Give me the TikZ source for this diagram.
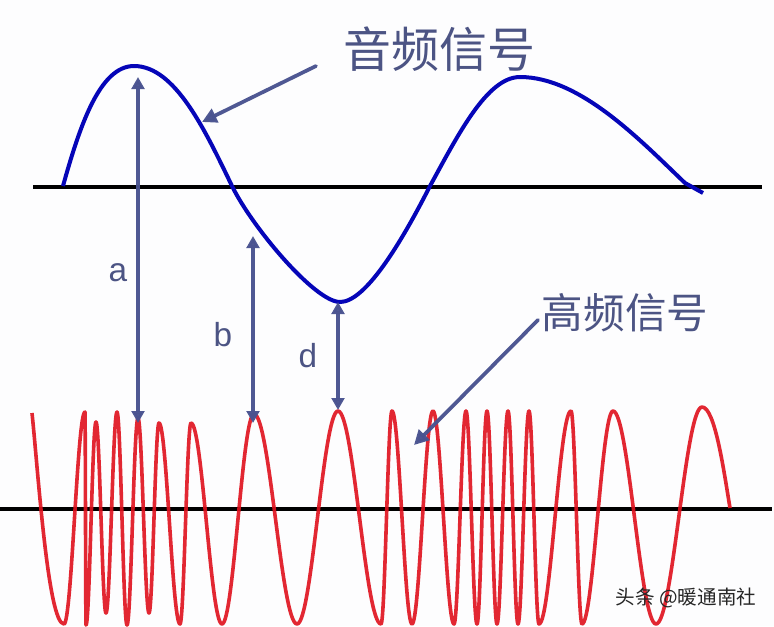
\documentclass[tikz,border=0pt]{standalone}
\usepackage{fontspec}
\setmainfont{Liberation Sans}
\newfontfamily\cjkf{Noto Sans CJK SC}
\usetikzlibrary{arrows.meta}
\definecolor{sigblue}{HTML}{0505B8}
\definecolor{sigred}{HTML}{E0101C}
\definecolor{arrowc}{HTML}{4A5390}
\definecolor{labelc}{HTML}{4C5484}
\definecolor{bgc}{HTML}{FDFDFE}
\tikzset{
  axisline/.style={draw=black,line width=2.6pt},
  audiowave/.style={draw=sigblue,line width=3pt,line join=round},
  carrier/.style={draw=sigred,line width=2.7pt,line join=round,opacity=.9},
  measure/.style={draw=arrowc,line width=2.7pt,{Triangle[length=9pt,width=9.5pt]}-{Triangle[length=9pt,width=9.5pt]},opacity=.97},
  pointer/.style={draw=arrowc,line width=2.8pt,line cap=round,-{Triangle[length=11pt,width=11pt]},opacity=.97},
  bigtext/.style={inner sep=0pt,text=labelc,font=\cjkf\fontsize{36}{36}\selectfont},
  midtext/.style={inner sep=0pt,text=labelc,font=\cjkf\fontsize{31.2}{32}\selectfont},
  lettertext/.style={inner sep=0pt,text=labelc,font=\fontsize{25}{25}\selectfont},
  marktext/.style={inner sep=0pt,text=black!85,font=\cjkf\fontsize{14.7}{15}\selectfont},
}
\begin{document}
\begin{tikzpicture}[x=0.75pt,y=-0.75pt]
\useasboundingbox (0,0) rectangle (774,626);
\fill[bgc] (0,0) rectangle (774,626);
\clip (0,0) rectangle (774,626);
% axes
\coordinate (topL) at (33,187);
\coordinate (topR) at (762,187);
\coordinate (lowL) at (0,509);
\coordinate (lowR) at (772,509);
\draw[axisline] (topL) -- (topR);
\draw[axisline] (lowL) -- (lowR);
% high-frequency signal
\draw[carrier] (32,413) .. controls (38,470) and (48,624) .. (64,624)
  foreach \x/\y [remember=\x as \lx (initially 64), remember=\y as \ly (initially 624)] in {
    85/412,86/625,96/422,106/613,117/412,127/625,138/418,149/613,159/423,
    180/624,191/423,222/624,254/414,297/624,338/411,381/624,392/411,412/624,
    433/411,454/624,466/411,477/624,487/411,497/624,508/411,518/624,529/411,
    539/624,571/411,582/624,613/411,656/624,702/407}
  { .. controls ({\lx+0.3642*(\x-\lx)},\ly) and ({\x-0.3642*(\x-\lx)},\y) .. (\x,\y) }
  .. controls (715,407) and (724,472) .. (730,508);
% audio signal
\draw[audiowave] (63,186) .. controls (80,125) and (100,66) .. (134,66)
  .. controls (175,66) and (205,130) .. (232,186)
  .. controls (252,227) and (315,302) .. (340,302)
  .. controls (365,302) and (400,245) .. (430,186)
  .. controls (458,135) and (487,77) .. (520,77)
  .. controls (580,77) and (640,140) .. (685,183)
  -- (703,193);
% measurements
\coordinate (aT) at (138,77);  \coordinate (aB) at (138,423);
\coordinate (bT) at (253,236); \coordinate (bB) at (253,423);
\coordinate (dT) at (338,302); \coordinate (dB) at (338,410);
\draw[measure] (aT) -- (aB);
\draw[measure] (bT) -- (bB);
\draw[measure] (dT) -- (dB);
% labels
\node[bigtext] (audio) at (439,49) {音频信号};
\node[midtext] (high) at (625,313) {高频信号};
\node[lettertext] (la) at (118,273) {a};
\node[lettertext] (lb) at (223,335) {b};
\node[lettertext] (ld) at (308,356) {d};
\node[marktext] (mark) at (686,598) {头条 @暖通南社};
% pointers
\coordinate (pa) at (316,66);  \coordinate (pat) at (202,122);
\coordinate (pb) at (538,320); \coordinate (pbt) at (414,445);
\draw[pointer] (pa) -- (pat);
\draw[pointer] (pb) -- (pbt);
\end{tikzpicture}
\end{document}
